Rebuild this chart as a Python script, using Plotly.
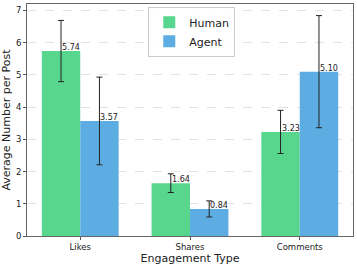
import plotly.graph_objects as go

categories = ["Likes", "Shares", "Comments"]
human_vals = [5.74, 1.64, 3.23]
agent_vals = [3.57, 0.84, 5.10]
human_err = [0.95, 0.29, 0.67]
agent_err = [1.36, 0.25, 1.74]

GREEN = "#58D68D"
BLUE = "#5DADE2"
FONT = "DejaVu Sans"
w = 0.35
xs = list(range(len(categories)))

fig = go.Figure()
fig.add_trace(go.Bar(
    x=[x - w / 2 for x in xs], y=human_vals, width=w, name="Human",
    marker=dict(color=GREEN, line=dict(width=0)),
    error_y=dict(type="data", array=human_err, color="#222", thickness=1, width=3),
))
fig.add_trace(go.Bar(
    x=[x + w / 2 for x in xs], y=agent_vals, width=w, name="Agent",
    marker=dict(color=BLUE, line=dict(width=0)),
    error_y=dict(type="data", array=agent_err, color="#222", thickness=1, width=3),
))

for x, h in zip(xs, human_vals):
    fig.add_annotation(x=x - w / 2, y=h, text=f"{h:.2f}", showarrow=False,
                       xanchor="left", yanchor="bottom", xshift=-1, yshift=-3,
                       font=dict(family=FONT, size=8, color="#222"))
for x, h in zip(xs, agent_vals):
    fig.add_annotation(x=x + w / 2, y=h, text=f"{h:.2f}", showarrow=False,
                       xanchor="left", yanchor="bottom", xshift=-1, yshift=-3,
                       font=dict(family=FONT, size=8, color="#222"))

fig.update_layout(
    width=357, height=267,
    margin=dict(l=27, r=4, t=4, b=31),
    plot_bgcolor="white", paper_bgcolor="white",
    font=dict(family=FONT, size=9, color="#222"),
    barmode="overlay",
    showlegend=True,
    legend=dict(x=0.372, y=0.988, xanchor="left", yanchor="top",
                bgcolor="rgba(255,255,255,0.9)", bordercolor="#cccccc", borderwidth=1,
                font=dict(family=FONT, size=11, color="#222"),
                itemwidth=30, tracegroupgap=0),
)
fig.update_xaxes(
    range=[-0.485, 2.485], tickmode="array", tickvals=xs, ticktext=categories,
    tickfont=dict(size=8.5), ticks="outside", ticklen=3, tickcolor="#555",
    showline=True, linecolor="#666", linewidth=1, mirror=True, showgrid=False,
    title=dict(text="Engagement Type", font=dict(size=11), standoff=1),
)
fig.update_yaxes(
    range=[0, 7.2], dtick=1, tickfont=dict(size=8.5), ticks="outside", ticklen=3,
    tickcolor="#555", showline=True, linecolor="#666", linewidth=1, mirror=True,
    showgrid=True, gridcolor="#e3e3e3", griddash="dash", gridwidth=0.8,
    zeroline=False,
    title=dict(text="Average Number per Post", font=dict(size=11), standoff=4),
)
fig.write_html("out.html", config={"displayModeBar": False},
               post_script="document.body.style.margin='0';document.body.style.overflow='hidden';")
